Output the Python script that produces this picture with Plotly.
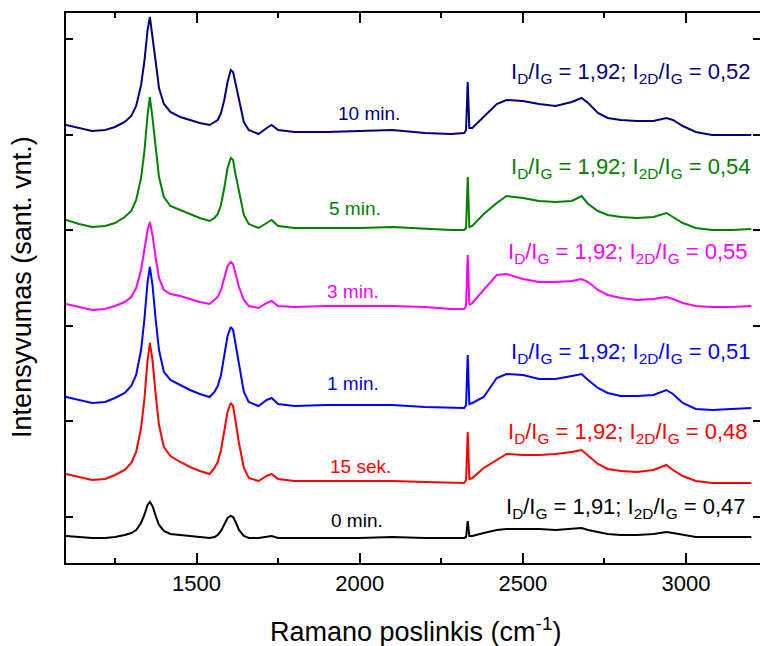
import plotly.graph_objects as go

# Raman shift grid (cm^-1)
shift = [1100, 1140, 1180, 1220, 1250, 1280, 1300, 1315, 1330, 1340, 1350, 1357, 1365, 1375, 1385,
         1400, 1420, 1450, 1480, 1510, 1540, 1555, 1565, 1575, 1585, 1595, 1605, 1612, 1620, 1630,
         1645, 1660, 1690, 1715, 1730, 1750, 1800, 1900, 2000, 2100, 2200, 2280, 2320, 2326, 2331,
         2336, 2345, 2380, 2420, 2450, 2500, 2550, 2600, 2650, 2680, 2700, 2730, 2760, 2800, 2850,
         2900, 2940, 2960, 2990, 3030, 3080, 3140, 3200]

# Stacked intensities (arbitrary units, already offset for display)
i_10min = [392, 389, 386, 387, 390, 395, 401, 411, 432, 455, 487, 500, 482, 455, 429,
           413, 405, 400, 397, 394, 392, 395, 397, 404, 417, 435, 447, 445, 432, 417,
           395, 387, 383, 389, 392, 387, 385, 385, 386, 387, 384, 383, 384, 387, 435,
           389, 389, 400, 413, 417, 416, 413, 411, 415, 419, 414, 404, 399, 397, 396,
           396, 399, 397, 391, 385, 382, 382, 382]
i_5min = [297, 293, 290, 291, 294, 300, 306, 317, 339, 365, 402, 420, 399, 367, 340,
          320, 311, 307, 303, 299, 296, 299, 303, 312, 329, 349, 359, 357, 342, 325,
          302, 293, 289, 294, 297, 291, 289, 289, 289, 290, 288, 287, 287, 289, 340,
          290, 291, 303, 314, 321, 319, 316, 315, 316, 321, 313, 306, 302, 300, 299,
          300, 304, 300, 294, 289, 287, 287, 288]
i_3min = [213, 210, 207, 208, 211, 215, 220, 229, 247, 267, 287, 295, 282, 259, 239,
          227, 223, 221, 218, 215, 213, 217, 220, 227, 239, 251, 255, 253, 243, 230,
          217, 211, 209, 214, 216, 211, 210, 211, 211, 211, 210, 208, 208, 211, 262,
          212, 214, 227, 242, 243, 238, 235, 235, 236, 238, 235, 227, 222, 219, 217,
          218, 220, 218, 214, 211, 210, 210, 211]
i_1min = [120, 117, 114, 115, 119, 124, 131, 142, 167, 197, 235, 250, 232, 197, 167,
          145, 137, 132, 127, 123, 120, 125, 131, 142, 162, 181, 190, 187, 172, 152,
          125, 115, 111, 117, 119, 113, 111, 112, 112, 112, 110, 109, 109, 112, 162,
          113, 114, 120, 139, 143, 142, 138, 138, 141, 143, 137, 129, 124, 121, 121,
          122, 127, 123, 114, 108, 107, 108, 109]
i_15s = [43, 40, 37, 38, 42, 47, 54, 65, 89, 117, 157, 174, 157, 122, 92,
         70, 61, 55, 50, 46, 43, 49, 55, 67, 87, 105, 114, 111, 95, 74,
         49, 39, 36, 41, 43, 38, 36, 36, 36, 36, 35, 34, 34, 37, 85,
         38, 39, 49, 57, 63, 62, 62, 63, 65, 67, 61, 53, 48, 46, 45,
         47, 52, 47, 41, 36, 34, 34, 34]
i_0min = [-19, -20, -21, -21, -20, -18, -16, -13, -6, 2, 12, 15, 11, 1, -8,
          -14, -17, -18, -19, -20, -21, -20, -18, -14, -7, -1, 1, 0, -5, -13,
          -19, -21, -21, -20, -19, -21, -21, -21, -21, -20, -21, -21, -21, -20, -4,
          -19, -19, -16, -13, -12, -12, -12, -13, -12, -11, -13, -15, -17, -18, -18,
          -17, -15, -16, -18, -20, -20, -20, -20]

names = ["10 min.", "5 min.", "3 min.", "1 min.", "15 sek.", "0 min."]
ratios = ["1,92", "1,92", "1,92", "1,92", "1,92", "1,91"]
ratios_2d = ["0,52", "0,54", "0,55", "0,51", "0,48", "0,47"]
colors = ["#000080", "#008000", "#ff00ff", "#0000ff", "#ff0000", "#000000"]
spectra = [i_10min, i_5min, i_3min, i_1min, i_15s, i_0min]

# label anchor points (shift, intensity)
name_pos = [(2028, 404), (1986, 309), (1980, 226), (1980, 134), (2001, 51), (1992, -3)]
ratio_pos = [(3205, 444), (3205, 349), (3195, 264), (3205, 164), (3195, 84), (3190, 9)]

FONT = "Liberation Sans, Arial, sans-serif"

fig = go.Figure()
for ys, col, nm in zip(spectra, colors, names):
    fig.add_trace(go.Scatter(x=shift, y=ys, mode="lines", name=nm,
                             line=dict(color=col, width=2), showlegend=False))
# companion trace so the mirrored axes are drawn
fig.add_trace(go.Scatter(x=[], y=[], xaxis="x2", yaxis="y2", showlegend=False))

annotations = []
for (nx, ny), (rx, ry), col, nm, r1, r2 in zip(name_pos, ratio_pos, colors, names, ratios, ratios_2d):
    annotations.append(dict(x=nx, y=ny, text=nm, showarrow=False, xanchor="center", yanchor="middle",
                            font=dict(family=FONT, size=19, color=col)))
    annotations.append(dict(x=rx, y=ry,
                            text=f"I<sub>D</sub>/I<sub>G</sub> = {r1}; I<sub>2D</sub>/I<sub>G</sub> = {r2}",
                            showarrow=False, xanchor="right", yanchor="middle",
                            font=dict(family=FONT, size=22, color=col)))

annotations.append(dict(xref="paper", yref="paper", x=0.503, y=-0.122, text="Ramano poslinkis (cm<sup>-1</sup>)",
                        showarrow=False, xanchor="center", yanchor="middle",
                        font=dict(family=FONT, size=27, color="black")))
annotations.append(dict(xref="paper", yref="paper", x=-0.0634, y=0.502, text="Intensyvumas (sant. vnt.)",
                        showarrow=False, xanchor="center", yanchor="middle", textangle=-90,
                        font=dict(family=FONT, size=27, color="black")))

axis_common = dict(showgrid=False, zeroline=False, linecolor="black", linewidth=2,
                   tickcolor="black", tickwidth=2, ticks="inside")

fig.update_layout(
    width=760, height=646,
    margin=dict(l=66, r=0, t=13, b=83),
    paper_bgcolor="white", plot_bgcolor="white",
    font=dict(family=FONT, color="black"),
    xaxis=dict(range=[1100, 3226.7], showline=True, ticklen=10, tick0=1500, dtick=500,
               tickfont=dict(family=FONT, size=22, color="black"),
               minor=dict(ticks="inside", ticklen=5, tickwidth=2, tickcolor="black", dtick=250, tick0=1250),
               **axis_common),
    xaxis2=dict(overlaying="x", side="top", matches="x", anchor="y", showline=True, ticklen=10,
                tick0=1500, dtick=500, showticklabels=False,
                minor=dict(ticks="inside", ticklen=5, tickwidth=2, tickcolor="black", dtick=250, tick0=1250),
                **axis_common),
    yaxis=dict(range=[-46, 504], showline=True, ticklen=7, tick0=0, dtick=95.6, showticklabels=False,
               **axis_common),
    yaxis2=dict(overlaying="y", side="right", matches="y", anchor="x", showline=False, ticklen=7,
                tick0=0, dtick=95.6, showticklabels=False, **axis_common),
    annotations=annotations,
)

fig.write_html("out.html")
